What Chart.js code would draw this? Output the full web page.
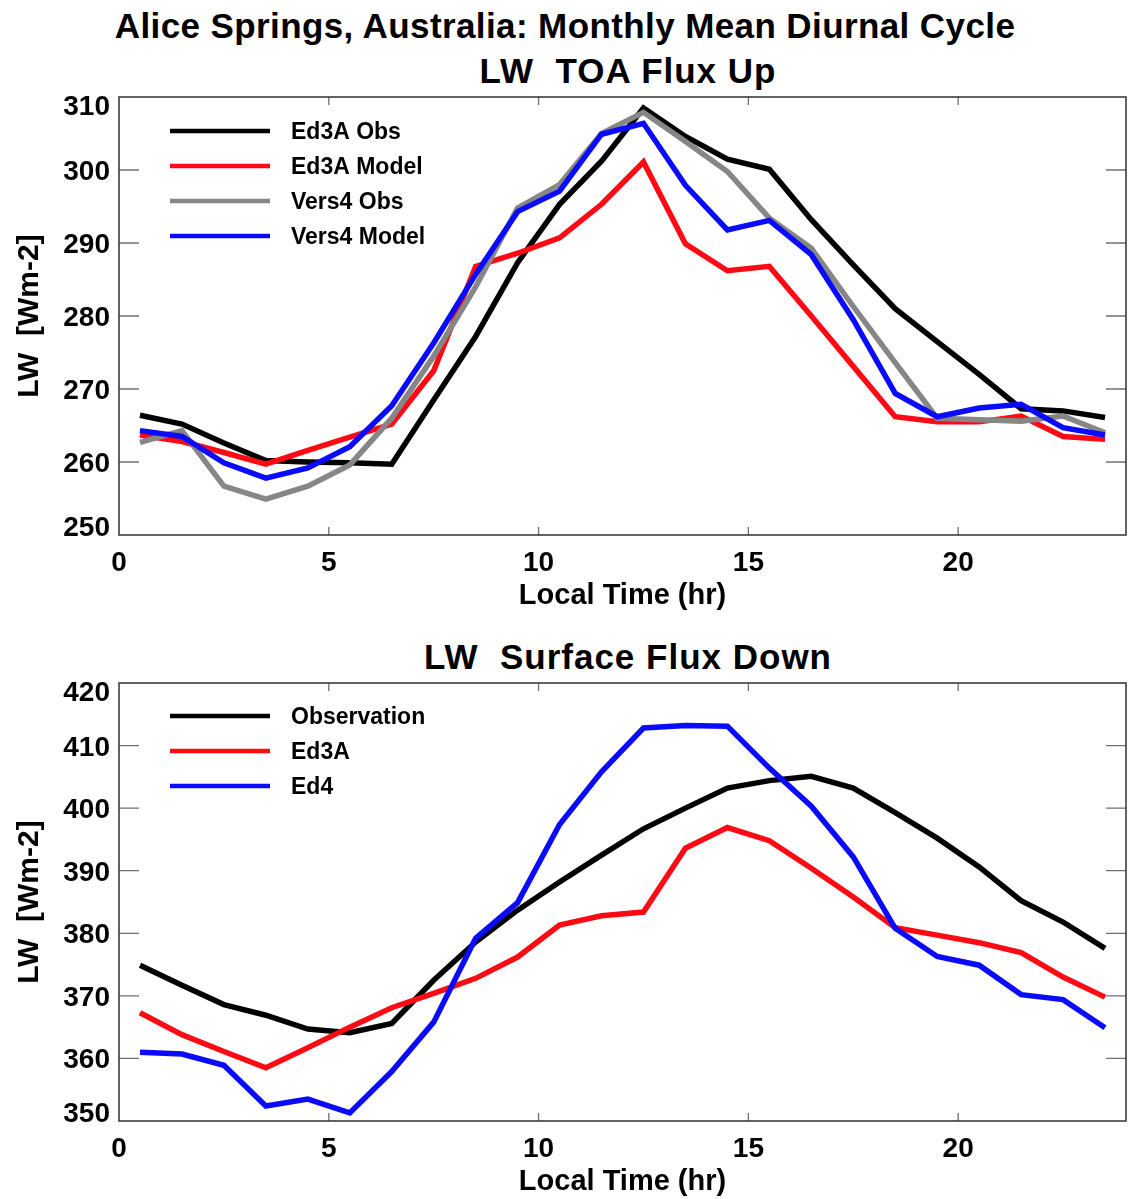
<!DOCTYPE html>
<html>
<head>
<meta charset="utf-8">
<script src="https://cdn.jsdelivr.net/npm/chart.js@4/dist/chart.umd.min.js"></script>
<style>
  html, body { margin: 0; padding: 0; background: #fff; width: 1130px; height: 1199px; overflow: hidden; }
  .t { position: absolute; font-family: 'Liberation Sans', Arial, Helvetica, sans-serif; font-weight: bold;
       white-space: pre; line-height: 35px; color: #000; text-align: center; }
  .wrap { position: absolute; left: 0; width: 1130px; }
  canvas { display: block; }
</style>
</head>
<body>
<div class="t" style="left:0;width:1130px;top:8px;font-size:35px;letter-spacing:0.4px">Alice Springs, Australia: Monthly Mean Diurnal Cycle</div>
<div class="t" style="left:128px;width:1000px;top:53px;font-size:35px;letter-spacing:1px">LW  TOA Flux Up</div>
<div class="t" style="left:128px;width:1000px;top:639px;font-size:35px;letter-spacing:1px">LW  Surface Flux Down</div>

<div class="wrap" style="top:0;height:620px"><canvas id="toa" width="1130" height="620"></canvas></div>
<div class="wrap" style="top:620px;height:579px"><canvas id="sfc" width="1130" height="579"></canvas></div>

<script>
// Local hour of each monthly-mean sample (bin centres)
const hours = [0.5, 1.5, 2.5, 3.5, 4.5, 5.5, 6.5, 7.5, 8.5, 9.5, 10.5, 11.5,
               12.5, 13.5, 14.5, 15.5, 16.5, 17.5, 18.5, 19.5, 20.5, 21.5, 22.5, 23.5];

// LW TOA flux up [W m-2]
const toaEd3aObs   = [266.4, 265.2, 262.6, 260.2, 260.0, 259.9, 259.7, 268.5, 277.2, 287.3, 295.3, 301.2,
                      308.5, 304.6, 301.5, 300.1, 293.2, 287.0, 281.0, 276.5, 272.0, 267.3, 267.0, 266.1];
const toaEd3aModel = [263.7, 262.8, 261.3, 259.7, 261.6, 263.4, 265.2, 272.5, 286.8, 288.6, 290.7, 295.3,
                      301.1, 289.9, 286.2, 286.8, 280.0, 273.1, 266.2, 265.5, 265.5, 266.3, 263.5, 263.1];
const toaVers4Obs  = [262.7, 264.3, 256.7, 254.9, 256.7, 259.6, 266.0, 274.5, 284.0, 294.8, 298.0, 305.0,
                      307.9, 303.9, 299.8, 293.4, 289.3, 281.3, 273.6, 266.0, 265.8, 265.6, 266.3, 264.0];
const toaVers4Model= [264.3, 263.5, 259.9, 257.8, 259.2, 262.1, 267.7, 276.3, 285.7, 294.3, 297.1, 304.9,
                      306.4, 297.9, 291.8, 293.1, 288.4, 279.5, 269.4, 266.2, 267.4, 267.9, 264.7, 263.7];

// LW surface flux down [W m-2]
const sfcObservation = [374.9, 371.7, 368.6, 366.9, 364.7, 364.1, 365.6, 372.5, 378.6, 383.7, 388.2, 392.5,
                        396.7, 400.0, 403.2, 404.4, 405.1, 403.2, 399.3, 395.2, 390.6, 385.2, 381.8, 377.6];
const sfcEd3a        = [367.3, 363.8, 361.1, 358.5, 361.7, 365.0, 368.1, 370.4, 372.8, 376.2, 381.3, 382.8,
                        383.4, 393.6, 396.9, 394.8, 390.4, 385.8, 380.9, 379.7, 378.5, 376.9, 373.0, 369.8];
const sfcEd4         = [361.0, 360.7, 358.9, 352.4, 353.5, 351.3, 357.9, 365.8, 379.2, 384.9, 397.4, 405.8,
                        412.8, 413.2, 413.1, 406.4, 400.3, 392.2, 380.8, 376.3, 374.9, 370.2, 369.4, 364.9];

// Axis ranges and tick steps
const timeRange = [0, 24];
const timeStep = 5;
const toaRange = [250, 310];
const sfcRange = [350, 420];
const fluxStep = 10;

const FONT = "'Liberation Sans', Arial, Helvetica, sans-serif";

function pts(vals) { return vals.map((v, i) => ({ x: hours[i], y: v })); }

function series(label, vals, color, order) {
  return { label, data: pts(vals), borderColor: color, backgroundColor: color,
           borderWidth: 5.5, pointRadius: 0, pointHoverRadius: 0, tension: 0,
           fill: false, order };
}

// Boxed frame with inward tick marks, y tick labels and an in-plot legend
const framePlugin = {
  id: 'frame',
  afterDatasetsDraw(chart, args, opts) {
    const { ctx, chartArea: a, scales: { x, y } } = chart;
    ctx.save();
    ctx.strokeStyle = '#707070';
    ctx.lineWidth = 1.3;
    ctx.beginPath();
    x.ticks.forEach(t => {
      const px = x.getPixelForValue(t.value);
      if (px <= a.left + 1 || px >= a.right - 1) return;
      ctx.moveTo(px, a.bottom); ctx.lineTo(px, a.bottom - 8);
      ctx.moveTo(px, a.top);    ctx.lineTo(px, a.top + 8);
    });
    y.ticks.forEach(t => {
      const py = y.getPixelForValue(t.value);
      if (py <= a.top + 1 || py >= a.bottom - 1) return;
      ctx.moveTo(a.left, py);  ctx.lineTo(a.left + 20, py);
      ctx.moveTo(a.right, py); ctx.lineTo(a.right - 20, py);
    });
    ctx.stroke();

    ctx.strokeStyle = '#3c3c3c';
    ctx.lineWidth = 1.6;
    ctx.strokeRect(a.left, a.top, a.right - a.left, a.bottom - a.top);

    // y tick labels (end labels nudged inside the frame)
    ctx.fillStyle = '#000';
    ctx.font = 'bold 28px ' + FONT;
    ctx.textAlign = 'right';
    ctx.textBaseline = 'alphabetic';
    const n = y.ticks.length;
    y.ticks.forEach((t, i) => {
      let py = y.getPixelForValue(t.value);
      if (i === 0) py -= 9; else if (i === n - 1) py += 8;
      ctx.fillText(String(t.value), a.left - 9, py + 10);
    });

    // legend
    ctx.font = 'bold 23px ' + FONT;
    ctx.textAlign = 'left';
    chart.data.datasets.forEach((ds, i) => {
      const ly = opts.legendY + i * 35;
      ctx.strokeStyle = ds.borderColor;
      ctx.lineWidth = 4.5;
      ctx.beginPath();
      ctx.moveTo(170, ly); ctx.lineTo(270, ly);
      ctx.stroke();
      ctx.fillText(ds.label, 291, ly + 8);
    });
    ctx.restore();
  }
};

function makeChart(id, datasets, yRange, opt) {
  return new Chart(document.getElementById(id), {
    type: 'line',
    data: { datasets },
    plugins: [framePlugin],
    options: {
      responsive: false,
      animation: false,
      devicePixelRatio: 1,
      events: [],
      layout: { padding: { top: opt.top, right: 4, bottom: 0, left: 0 } },
      plugins: {
        legend: { display: false },
        tooltip: { enabled: false },
        title: { display: false },
        frame: { legendY: opt.legendY }
      },
      scales: {
        x: {
          type: 'linear',
          min: timeRange[0], max: timeRange[1],
          grid: { display: false },
          border: { display: false },
          afterBuildTicks: s => { s.ticks = s.ticks.filter(t => t.value % timeStep === 0); },
          afterFit: s => { s.height = opt.xHeight; },
          ticks: { stepSize: timeStep, padding: 3, color: '#000', maxRotation: 0, autoSkip: false,
                   font: { family: FONT, size: 28, weight: 'bold' } },
          title: { display: true, text: 'Local Time (hr)', color: '#000',
                   padding: { top: 0, bottom: opt.xTitlePad },
                   font: { family: FONT, size: 29, weight: 'bold' } }
        },
        y: {
          type: 'linear',
          min: yRange[0], max: yRange[1],
          grid: { display: false },
          border: { display: false },
          afterFit: s => { s.width = 119; },
          ticks: { stepSize: fluxStep, display: false },
          title: { display: true, text: 'LW  [Wm-2]', color: '#000',
                   padding: { top: 12, bottom: 0 },
                   font: { family: FONT, size: 30, weight: 'bold' } }
        }
      }
    }
  });
}

makeChart('toa', [
  series('Ed3A Obs', toaEd3aObs, '#000000', 4),
  series('Ed3A Model', toaEd3aModel, '#ff0a14', 3),
  series('Vers4 Obs', toaVers4Obs, '#868686', 2),
  series('Vers4 Model', toaVers4Model, '#0a0aff', 1)
], toaRange, { top: 97, xHeight: 85, xTitlePad: 7, legendY: 131 });

makeChart('sfc', [
  series('Observation', sfcObservation, '#000000', 3),
  series('Ed3A', sfcEd3a, '#ff0a14', 2),
  series('Ed4', sfcEd4, '#0a0aff', 1)
], sfcRange, { top: 63, xHeight: 78, xTitlePad: 0, legendY: 96 });
</script>
</body>
</html>
